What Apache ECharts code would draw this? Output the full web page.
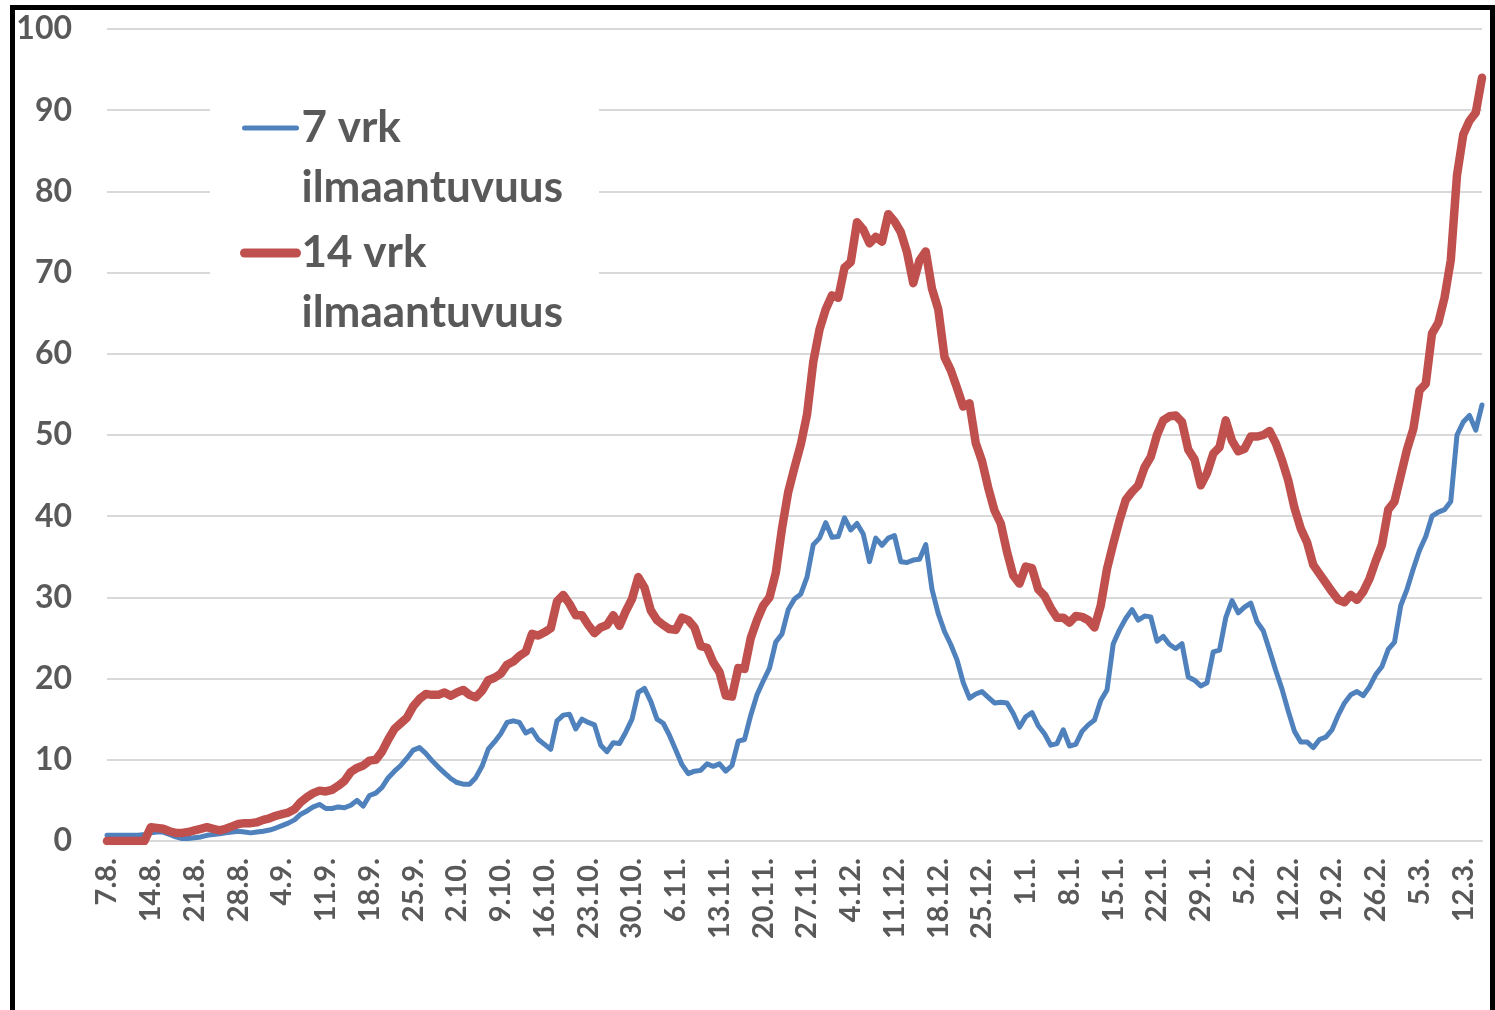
<!DOCTYPE html>
<html>
<head>
<meta charset="utf-8">
<script src="https://cdn.jsdelivr.net/npm/echarts@6/dist/echarts.min.js"></script>
<style>
  html, body { margin: 0; padding: 0; background: #fff; }
  #chart { width: 1495px; height: 1010px; }
</style>
</head>
<body>
<div id="chart"></div>
<script>
// Categories: daily dates from 7.8. to 15.3. (221 days)
const startDate = [2020, 7, 7]; // year, month index (0-based), day
const dayCount = 221;
const categories = [];
for (let i = 0; i < dayCount; i++) {
  const d = new Date(Date.UTC(startDate[0], startDate[1], startDate[2] + i));
  categories.push(d.getUTCDate() + '.' + (d.getUTCMonth() + 1) + '.');
}

const seriesNames = ['7 vrk\nilmaantuvuus', '14 vrk\nilmaantuvuus'];

// 7 vrk ilmaantuvuus
const incidence7 = [
  0.7,0.7,0.7,0.7,0.7,0.7,0.8,1.0,1.1,1.1,0.8,0.5,0.3,0.3,0.4,0.5,0.7,0.8,0.9,1.0,1.1,1.2,1.1,1.0,1.1,1.2,
  1.35,1.6,1.9,2.2,2.6,3.3,3.7,4.2,4.5,4.0,4.0,4.2,4.1,4.4,5.0,4.3,5.6,5.9,6.6,7.8,8.6,9.3,10.2,11.2,11.5,10.8,
  9.9,9.1,8.4,7.7,7.2,7.0,7.0,7.8,9.2,11.3,12.2,13.2,14.6,14.8,14.6,13.3,13.7,12.5,11.9,11.3,14.8,15.5,15.6,13.8,15.0,14.6,
  14.3,11.8,11.0,12.1,12.0,13.4,15.0,18.3,18.8,17.2,15.0,14.5,13.0,11.2,9.4,8.3,8.6,8.7,9.5,9.2,9.5,8.6,9.3,
  12.3,12.5,15.5,18.0,19.7,21.3,24.5,25.5,28.5,29.8,30.4,32.5,36.5,37.3,39.2,37.4,37.5,39.8,38.3,39.1,37.8,34.4,37.3,36.4,37.3,
  37.6,34.4,34.3,34.6,34.7,36.5,31.0,28.0,25.8,24.2,22.3,19.5,17.6,18.1,18.4,17.7,17.0,17.1,17.0,15.7,14.0,15.3,15.8,14.2,13.2,11.8,
  12.0,13.7,11.7,11.9,13.5,14.3,14.9,17.3,18.6,24.3,26.0,27.4,28.5,27.2,27.7,27.6,24.6,25.2,24.2,23.7,24.3,20.2,19.8,19.1,19.5,23.3,
  23.5,27.5,29.6,28.1,28.8,29.3,27.0,25.9,23.5,21.0,18.7,16.0,13.5,12.2,12.2,11.5,12.5,12.8,13.7,15.5,17.0,18.0,18.4,17.9,
  19.0,20.5,21.5,23.6,24.5,29.0,31.0,33.5,35.8,37.5,40.0,40.5,40.8,41.8,50.0,51.6,52.4,50.6,53.7
];

// 14 vrk ilmaantuvuus
const incidence14 = [
  0,0,0,0,0,0,0,1.7,1.6,1.5,1.2,1.0,1.0,1.1,1.3,1.5,1.7,1.5,1.3,1.5,1.8,2.1,2.2,2.2,2.3,2.6,
  2.8,3.1,3.3,3.5,3.9,4.8,5.4,5.9,6.2,6.1,6.3,6.8,7.4,8.5,9.0,9.3,9.9,10.0,11.0,12.5,13.8,14.5,15.2,16.6,17.5,18.1,
  18.0,18.0,18.3,17.9,18.3,18.6,18.0,17.7,18.5,19.8,20.1,20.6,21.7,22.1,22.8,23.3,25.5,25.3,25.7,26.2,29.5,30.3,29.2,27.8,27.8,26.6,
  25.6,26.3,26.6,27.8,26.5,28.3,29.8,32.5,31.2,28.4,27.2,26.6,26.1,26.0,27.5,27.2,26.3,24.0,23.8,22.0,20.8,17.9,17.8,
  21.3,21.2,25.0,27.2,29.0,30.0,33.0,38.5,43.0,46.0,48.8,52.5,59.0,63.0,65.5,67.2,66.9,70.6,71.3,76.2,75.3,73.6,74.4,73.8,77.2,
  76.3,75.0,72.5,68.7,71.5,72.6,68.0,65.5,59.6,58.0,55.8,53.5,53.9,49.0,46.8,43.5,40.7,39.1,35.6,32.7,31.7,33.8,33.6,31.0,30.2,28.7,
  27.5,27.5,26.9,27.7,27.6,27.2,26.3,29.0,33.5,36.6,39.5,42.0,43.0,43.8,46.0,47.3,50.0,51.8,52.3,52.4,51.6,48.2,47.0,43.8,45.3,47.7,
  48.5,51.8,49.3,48.0,48.3,49.8,49.8,50.0,50.5,49.0,46.9,44.4,41.0,38.5,36.8,34.0,32.9,31.8,30.7,29.7,29.4,30.3,
  29.7,30.7,32.3,34.5,36.5,40.8,41.8,45.0,48.2,50.7,55.5,56.3,62.5,63.8,66.9,71.5,82.0,87.0,88.7,89.7,94.0
];

const yTicks = { min: 0, max: 100, interval: 10 };

const chart = echarts.init(document.getElementById('chart'), null, { renderer: 'canvas' });
const textColor = '#595959';
const fontFamily = 'Lato, "Open Sans", "Liberation Sans", sans-serif';

chart.setOption({
  animation: false,
  backgroundColor: '#ffffff',
  grid: { left: 107, right: 13, top: 29, bottom: 169, containLabel: false },
  legend: {
    orient: 'vertical',
    left: 210,
    top: 38,
    padding: [0, 36, 2, 30],
    backgroundColor: '#ffffff',
    itemWidth: 52,
    itemHeight: 14,
    itemGap: -55,
    formatter: function (name) { return '\u00a0\n' + name; },
    data: [
      { name: seriesNames[0], lineStyle: { width: 5, cap: 'round' }, itemStyle: { opacity: 0 } },
      { name: seriesNames[1], lineStyle: { width: 9, cap: 'round' }, itemStyle: { opacity: 0 } }
    ],
    textStyle: {
      fontFamily: fontFamily,
      fontSize: 44,
      fontWeight: 'bold',
      color: textColor,
      lineHeight: 60
    }
  },
  xAxis: {
    type: 'category',
    data: categories,
    boundaryGap: false,
    axisLine: { show: true, lineStyle: { color: '#d9d9d9', width: 2 } },
    axisTick: { show: false },
    axisLabel: {
      interval: 6,
      rotate: 90,
      margin: 17,
      padding: [8, 0, 0, 0],
      fontFamily: fontFamily,
      fontSize: 29,
      fontWeight: 'bold',
      color: textColor
    },
    splitLine: { show: false }
  },
  yAxis: {
    type: 'value',
    min: yTicks.min,
    max: yTicks.max,
    interval: yTicks.interval,
    axisLine: { show: false },
    axisTick: { show: false },
    axisLabel: {
      margin: 35,
      fontFamily: fontFamily,
      fontSize: 32,
      fontWeight: 'bold',
      color: textColor
    },
    splitLine: { show: true, lineStyle: { color: '#d9d9d9', width: 2 } }
  },
  series: [
    {
      name: seriesNames[0],
      type: 'line',
      data: incidence7,
      symbol: 'none',
      lineStyle: { color: '#4f81bd', width: 5, cap: 'round', join: 'round' },
      itemStyle: { color: '#4f81bd' },
      z: 2
    },
    {
      name: seriesNames[1],
      type: 'line',
      data: incidence14,
      symbol: 'none',
      lineStyle: { color: '#c0504d', width: 8.5, cap: 'round', join: 'round' },
      itemStyle: { color: '#c0504d' },
      z: 3
    }
  ],
  graphic: [
    {
      type: 'rect',
      silent: true,
      z: 100,
      shape: { x: 12.5, y: 7.5, width: 1480, height: 1100 },
      style: { fill: 'none', stroke: '#000000', lineWidth: 5 }
    }
  ]
});
</script>
</body>
</html>
